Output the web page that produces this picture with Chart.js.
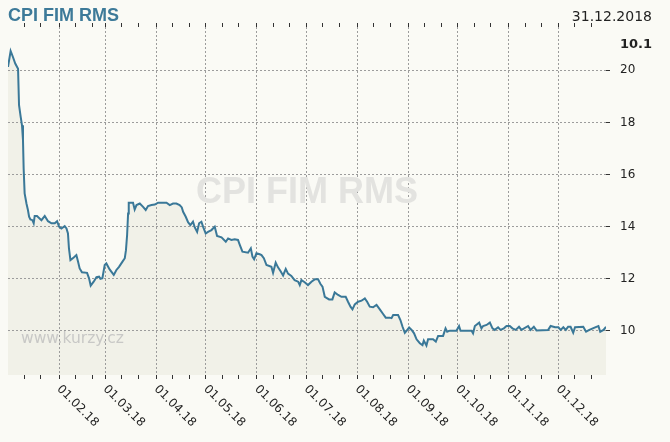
<!DOCTYPE html>
<html lang="cs">
<head>
    <meta charset="UTF-8">
    <title>CPI FIM RMS</title>
    <script src="https://cdn.jsdelivr.net/npm/chart.js"></script>
    <style>
        html, body {
            margin: 0;
            padding: 0;
            background-color: #fafaf5;
        }
        #chart {
            display: block;
        }
    </style>
</head>
<body>
    <canvas id="chart" width="670" height="442"></canvas>

    <script>
        // days since 01.01.2018 and the fund value on that day
        const dayIdx = [
            0, 1.6, 3, 4.4, 6.1, 6.7, 7.7, 8.5, 9.1, 9.5, 10.1, 11.2, 12.1, 12.8, 13.6, 14.8, 15.6, 16.2, 17.6, 20.3,
            22.3, 24.3, 26.4, 28.4, 29.8, 31, 32.4, 34.4, 35.5, 36.4, 37, 37.9, 39.9, 41.5, 42.5, 43.5, 44.9, 48, 49.2, 50.2,
            52, 53.7, 55.3, 56.1, 57.3, 58.7, 59.7, 61.7, 64.2, 65.8, 67.4, 69.5, 70.9, 71.6, 72.3, 72.9, 73.3, 75.9, 76.9, 78,
            80, 82, 83.6, 85, 87.1, 89.1, 91.1, 96.2, 98.2, 100.2, 102.2, 104.2, 105.5, 106.3, 107.9, 109.3, 110.7, 112.3, 113.4, 114.8,
            116, 117.4, 118.4, 120, 121.4, 123.5, 125.5, 126.9, 129.6, 132.2, 133.6, 135.6, 137.6, 139.6, 140.7, 142.3, 145.7, 147.4, 148.4, 149.4,
            150.8, 152.8, 153.9, 155.3, 156.9, 159.9, 160.9, 162.5, 163.9, 165.4, 167, 168.6, 170, 172, 174, 176.1, 177.1, 178.1, 180.1, 182.1,
            184.2, 186.2, 188.2, 189.7, 190.9, 192.3, 194.9, 196.9, 198.3, 200.4, 202.4, 205, 206.4, 207.9, 209.1, 210.5, 212.5, 214.6, 216.6, 218,
            219.6, 221.6, 223.7, 225.7, 227.7, 229.3, 231.7, 232.8, 233.8, 236.8, 238.2, 239.5, 240.9, 241.9, 243.5, 245, 246.5, 248, 250, 251.6,
            252.4, 254, 255, 258, 259.7, 261.1, 264.1, 265.6, 266.6, 268.2, 272.2, 273.8, 274.7, 281.4, 282.3, 283.4, 286, 287.4, 288.4, 290.5,
            292.5, 294.1, 295.5, 297.5, 299, 301, 302.6, 304.6, 306.2, 308.2, 310.2, 311.7, 315.7, 317.2, 319.2, 320.8, 327.9, 329.4, 332.1, 334.1,
            335.5, 337.1, 338.6, 340, 341.5, 343.1, 344.2, 349.2, 350.9, 352.9, 356.4, 358.4, 359.5, 361.5, 363
        ];
        const cpiValues = [
            20.13, 20.74, 20.51, 20.26, 20.06, 18.66, 18.21, 17.89, 17.32, 16.23, 15.28, 14.89, 14.64, 14.38, 14.28, 14.25, 14.13, 14.41, 14.41, 14.25,
            14.41, 14.21, 14.13, 14.13, 14.21, 14.00, 13.93, 14.02, 13.93, 13.74, 13.17, 12.72, 12.82, 12.91, 12.66, 12.40, 12.25, 12.23, 12.02, 11.74,
            11.89, 12.06, 12.08, 12.00, 12.02, 12.53, 12.59, 12.36, 12.15, 12.34, 12.46, 12.66, 12.79, 13.10, 13.68, 14.51, 14.92, 14.92, 14.66, 14.83,
            14.89, 14.76, 14.64, 14.79, 14.83, 14.85, 14.92, 14.92, 14.83, 14.89, 14.89, 14.83, 14.74, 14.57, 14.38, 14.17, 14.06, 14.19, 13.97, 13.80,
            14.13, 14.19, 14.00, 13.74, 13.80, 13.87, 14.00, 13.64, 13.59, 13.42, 13.55, 13.49, 13.52, 13.49, 13.30, 13.04, 13.00, 13.17, 12.85, 12.75,
            12.98, 12.94, 12.91, 12.79, 12.53, 12.46, 12.23, 12.62, 12.44, 12.30, 12.13, 12.38, 12.20, 12.11, 11.95, 11.89, 11.76, 11.95, 11.87, 11.76,
            11.89, 11.98, 11.98, 11.80, 11.70, 11.31, 11.21, 11.21, 11.48, 11.38, 11.31, 11.31, 11.12, 10.93, 10.83, 11.02, 11.12, 11.16, 11.25, 11.12,
            10.93, 10.91, 11.00, 10.83, 10.65, 10.51, 10.51, 10.49, 10.61, 10.61, 10.42, 10.16, 9.93, 10.00, 10.13, 10.04, 9.91, 9.68, 9.53, 9.46,
            9.63, 9.44, 9.68, 9.68, 9.59, 9.81, 9.81, 10.10, 9.97, 10.01, 10.01, 10.19, 10.01, 10.01, 9.91, 10.19, 10.32, 10.10, 10.19, 10.23,
            10.32, 10.10, 10.04, 10.14, 10.04, 10.10, 10.19, 10.19, 10.10, 10.04, 10.16, 10.04, 10.19, 10.04, 10.16, 10.02, 10.04, 10.19, 10.14, 10.14,
            10.04, 10.14, 10.04, 10.16, 10.16, 9.93, 10.14, 10.16, 9.97, 10.04, 10.14, 10.19, 9.97, 10.04, 10.16
        ];

        // first day of each month (days since 01.01.2018) and its label
        const monthDays = [0, 31, 59, 90, 120, 151, 181, 212, 243, 273, 304, 334];
        const monthLabels = ['', '01.02.18', '01.03.18', '01.04.18', '01.05.18', '01.06.18',
            '01.07.18', '01.08.18', '01.09.18', '01.10.18', '01.11.18', '01.12.18'];
        const yTicks = [10, 12, 14, 16, 18, 20];

        const chartTitle = 'CPI FIM RMS';
        const lastDate = '31.12.2018';
        const lastValue = '10.1';

        const points = dayIdx.map((d, i) => ({ x: d, y: cpiValues[i] }));

        // month starts carry a grid line, the 11th and 21st only a tick mark
        const xTicks = [];
        monthDays.forEach(d => {
            if (d > 0) xTicks.push({ value: d, major: true });
            xTicks.push({ value: d + 10, major: false });
            xTicks.push({ value: d + 20, major: false });
        });

        const textPlugin = {
            id: 'texts',
            beforeDatasetsDraw(chart) {
                const ctx = chart.ctx;
                ctx.save();
                ctx.fillStyle = '#e3e3e0';
                ctx.font = 'bold 36px "Liberation Sans"';
                ctx.textAlign = 'center';
                ctx.textBaseline = 'alphabetic';
                ctx.fillText(chartTitle, 307, 203);
                ctx.fillStyle = '#c8c8c6';
                ctx.font = '15.5px "DejaVu Sans"';
                ctx.textAlign = 'left';
                ctx.fillText('www.kurzy.cz', 21, 343);
                ctx.restore();
            },
            afterDraw(chart) {
                const ctx = chart.ctx;
                const x = chart.scales.x;
                ctx.save();
                ctx.textBaseline = 'alphabetic';

                ctx.fillStyle = '#3d7a99';
                ctx.font = 'bold 18px "Liberation Sans"';
                ctx.textAlign = 'left';
                ctx.fillText(chartTitle, 8, 21);

                ctx.fillStyle = '#222';
                ctx.font = '14px "DejaVu Sans"';
                ctx.textAlign = 'right';
                ctx.fillText(lastDate, 652, 21);
                ctx.font = 'bold 13px "DejaVu Sans"';
                ctx.fillText(lastValue, 652, 48);

                // date labels slope down to the right from their tick
                ctx.font = '12px "DejaVu Sans"';
                ctx.textAlign = 'left';
                ctx.textBaseline = 'top';
                monthDays.forEach((d, i) => {
                    if (!monthLabels[i]) return;
                    ctx.save();
                    ctx.translate(x.getPixelForValue(d) + 4, chart.chartArea.bottom + 8);
                    ctx.rotate(Math.PI / 4);
                    ctx.fillText(monthLabels[i], 0, 0);
                    ctx.restore();
                });
                ctx.restore();
            }
        };

        const gridColor = c => (c.tick && c.tick.major ? '#9c9c9c' : 'rgba(0,0,0,0)');

        new Chart(document.getElementById('chart'), {
            type: 'line',
            data: {
                datasets: [{
                    data: points,
                    borderColor: '#3a7898',
                    borderWidth: 2,
                    backgroundColor: '#f1f1e8',
                    fill: 'start',
                    pointRadius: 0,
                    tension: 0
                }]
            },
            options: {
                responsive: false,
                animation: false,
                layout: { padding: { left: 8 } },
                plugins: {
                    legend: { display: false },
                    tooltip: { enabled: false },
                    filler: { drawTime: 'beforeDraw' }
                },
                scales: {
                    x: {
                        type: 'linear',
                        position: 'bottom',
                        min: 0,
                        max: 363,
                        afterBuildTicks: s => { s.ticks = xTicks.map(t => ({ value: t.value, major: t.major })); },
                        afterFit: s => { s.height = 67; },
                        ticks: { display: false },
                        border: { display: false, dash: [2, 2] },
                        grid: { color: gridColor, tickColor: '#333', tickLength: 4, lineWidth: 1 }
                    },
                    x2: {
                        type: 'linear',
                        position: 'top',
                        min: 0,
                        max: 363,
                        afterBuildTicks: s => { s.ticks = xTicks.map(t => ({ value: t.value, major: t.major })); },
                        afterFit: s => { s.height = 27; },
                        ticks: { display: false },
                        border: { display: false },
                        grid: { drawOnChartArea: false, tickColor: '#333', tickLength: 4 }
                    },
                    y: {
                        position: 'right',
                        min: 8.31,
                        max: 21.66,
                        afterBuildTicks: s => { s.ticks = yTicks.map(v => ({ value: v })); },
                        afterFit: s => { s.width = 64; },
                        ticks: {
                            padding: 10,
                            color: '#222',
                            font: { family: '"DejaVu Sans"', size: 12 }
                        },
                        border: { display: false, dash: [2, 2] },
                        grid: { color: '#9c9c9c', tickColor: '#333', tickLength: 4 }
                    }
                }
            },
            plugins: [textPlugin]
        });
    </script>
</body>
</html>
